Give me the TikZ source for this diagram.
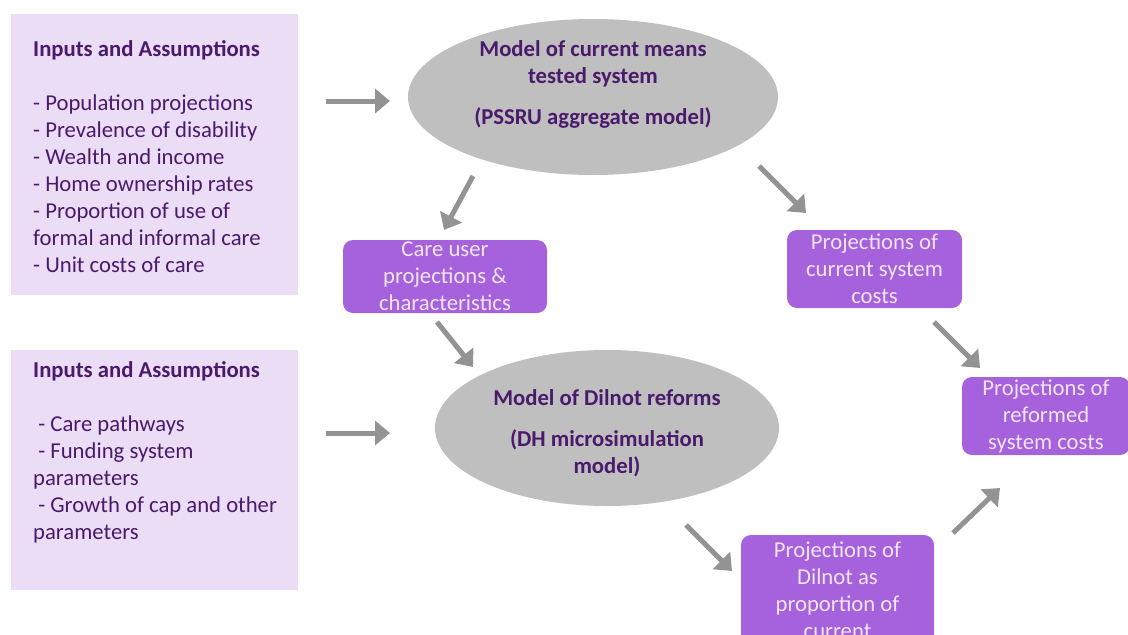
\documentclass[tikz,border=0pt]{standalone}
\usepackage{fontspec}
\setmainfont{Carlito}
\usetikzlibrary{shapes.geometric,arrows.meta}
\definecolor{lavender}{HTML}{EBDDF5}
\definecolor{boxpurple}{HTML}{A661DC}
\definecolor{boxtext}{HTML}{F0E4FA}
\definecolor{darkpurple}{HTML}{4A1A6C}
\definecolor{modelgray}{HTML}{BFBFBF}
\definecolor{arrowgray}{HTML}{939393}

\begin{document}
\begin{tikzpicture}[x=1pt,y=-1pt, every node/.style={font=\fontsize{22.7}{27}\selectfont, inner sep=0},
	inputs/.style={fill=lavender, minimum width=287, minimum height=281},
	inputtext/.style={anchor=north west, align=left, text=darkpurple},
	model/.style={ellipse, fill=modelgray, minimum width=370, minimum height=156},
	modeltext/.style={anchor=north, align=center, text=darkpurple, font=\fontsize{22.7}{27}\selectfont\bfseries},
	result/.style={rounded corners=10pt, fill=boxpurple, text=boxtext, align=center},
	flow/.style={draw=arrowgray, line width=5pt, -{Triangle[length=15pt,width=24pt]}}]
\useasboundingbox (0,0) rectangle (1128,635);
\node[inputs] (in1) at (154.5,154.5) {};
\node[inputtext] (in1text) at (33,40) {\textbf{Inputs and Assumptions}\\[27pt]
	- Population projections\\
	- Prevalence of disability\\
	- Wealth and income\\
	- Home ownership rates\\
	- Proportion of use of\\
	formal and informal care\\
	- Unit costs of care};
\node[inputs, minimum height=240] (in2) at (154.5,470) {};
\node[inputtext] (in2text) at (33,361) {\textbf{Inputs and Assumptions}\\[27pt]
	\ - Care pathways\\
	\ - Funding system\\
	parameters\\
	\ - Growth of cap and other\\
	parameters};
\node[model] (meanstested) at (593,97) {};
\node[modeltext] (meanstestedtext) at (593,40) {Model of current means\\tested system\\[14pt](PSSRU aggregate model)};
\node[model, minimum width=344] (dilnot) at (607,428) {};
\node[modeltext] (dilnottext) at (607,389) {Model of Dilnot reforms\\[14pt](DH microsimulation\\model)};
\node[result, minimum width=204, minimum height=73] (careusers) at (445,276.5) {Care user\\projections \&\\characteristics};
\node[result, minimum width=175, minimum height=78] (currentcosts) at (874.5,269) {Projections of\\current system\\costs};
\node[result, minimum width=168, minimum height=78] (reformedcosts) at (1046,416) {Projections of\\reformed\\system costs};
\node[result, minimum width=193, minimum height=110] (proportion) at (837.5,590) {Projections of\\Dilnot as\\proportion of\\current};
\coordinate (in1out) at (326,101);
\coordinate (meanstestedin) at (390,101);
\coordinate (in2out) at (326,433);
\coordinate (dilnotin) at (390,433);
\coordinate (meanstestedsw) at (473,176);
\coordinate (careusersin) at (444,230);
\coordinate (meanstestedse) at (759,166);
\coordinate (currentcostsin) at (806,213);
\coordinate (careusersout) at (437,322);
\coordinate (dilnotnw) at (473,367);
\coordinate (currentcostsout) at (934,322);
\coordinate (reformedin) at (980,368);
\coordinate (dilnotse) at (686,525);
\coordinate (proportionin) at (732,571);
\coordinate (proportionout) at (953,533);
\coordinate (reformedsw) at (1000,488);
\draw[flow] (in1out) -- (meanstestedin);
\draw[flow] (in2out) -- (dilnotin);
\draw[flow] (meanstestedsw) -- (careusersin);
\draw[flow] (meanstestedse) -- (currentcostsin);
\draw[flow] (careusersout) -- (dilnotnw);
\draw[flow] (currentcostsout) -- (reformedin);
\draw[flow] (dilnotse) -- (proportionin);
\draw[flow] (proportionout) -- (reformedsw);
\end{tikzpicture}
\end{document}
